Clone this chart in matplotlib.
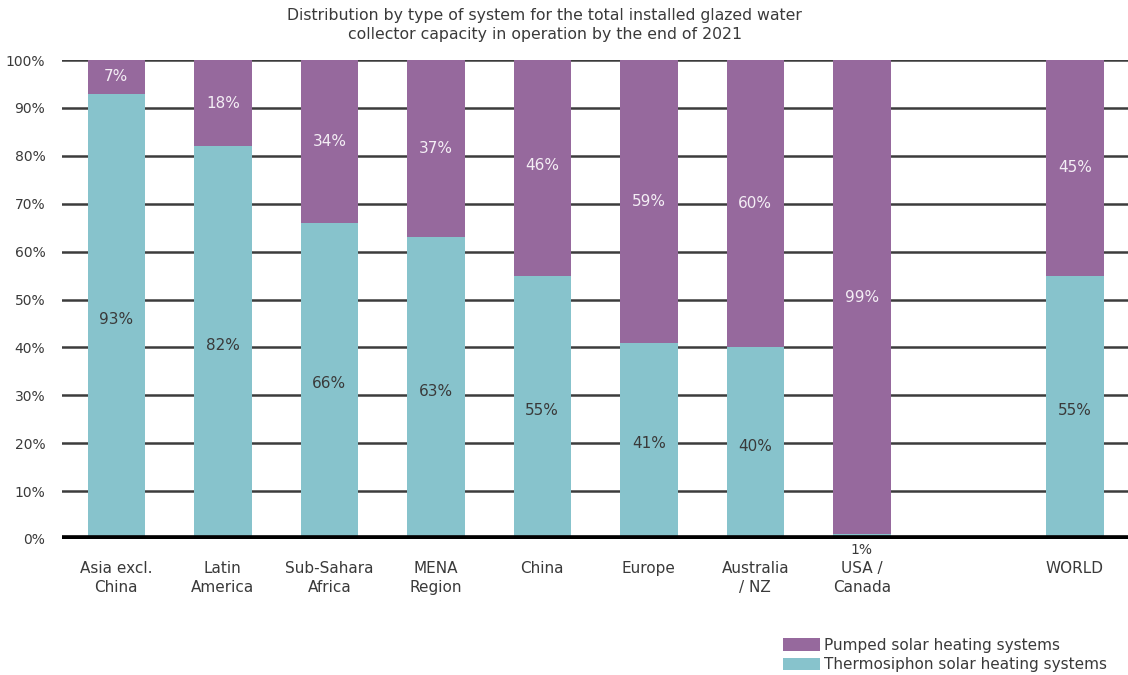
import matplotlib.pyplot as plt
import numpy as np

plt.rcParams['font.family'] = ['DejaVu Sans']

# Data
categories = ['Asia excl.\nChina', 'Latin\nAmerica', 'Sub-Sahara\nAfrica', 'MENA\nRegion',
              'China', 'Europe', 'Australia\n/ NZ', 'USA /\nCanada', 'WORLD']
thermosiphon = [93, 82, 66, 63, 55, 41, 40, 1, 55]
pumped = [7, 18, 34, 37, 46, 59, 60, 99, 45]
yticks = [0, 10, 20, 30, 40, 50, 60, 70, 80, 90, 100]

purple = '#96699d'
teal = '#87c3cc'
text_col = '#3a3a3a'

# one empty slot before WORLD
x = np.array(list(range(8)) + [9])

fig = plt.figure(figsize=(11.28, 6.75), dpi=100)
ax = fig.add_axes([0.055, 0.2015, 0.945, 0.7095])

ax.bar(x, thermosiphon, width=0.54, color=teal, zorder=3,
       label='Thermosiphon solar heating systems')
ax.bar(x, pumped, width=0.54, bottom=thermosiphon, color=purple, zorder=3,
       label='Pumped solar heating systems')

# value labels
for xi, t, p in zip(x, thermosiphon, pumped):
    if t >= 5:
        ax.text(xi, t / 2 - 0.6, f'{t}%', ha='center', va='center', fontsize=11,
                color=text_col, zorder=4)
    else:
        ax.text(xi, -2.4, f'{t}%', ha='center', va='center', fontsize=10,
                color=text_col, zorder=4)
    ax.text(xi, t + p / 2, f'{p}%', ha='center', va='center', fontsize=11,
            color='#f4eef5', zorder=4)

# grid
for yv in yticks[1:]:
    ax.axhline(yv, color='#3c3c3c', linewidth=1.8, zorder=1)
ax.axhline(0, color='black', linewidth=5.5, zorder=5)

ax.set_xlim(-0.51, 9.5)
ax.set_ylim(0, 100)
ax.set_yticks(yticks)
ax.set_yticklabels([f'{v}%' for v in yticks], fontsize=10, color=text_col)
ax.set_xticks(x)
ax.set_xticklabels(categories, fontsize=11, color=text_col, linespacing=1.3)
ax.tick_params(axis='both', length=0)
ax.tick_params(axis='x', pad=16)
ax.tick_params(axis='y', pad=12)
for s in ax.spines.values():
    s.set_visible(False)

fig.text(0.483, 0.963, 'Distribution by type of system for the total installed glazed water\n'
         'collector capacity in operation by the end of 2021',
         ha='center', va='center', fontsize=11.3, color=text_col, linespacing=1.3)

handles, labels = ax.get_legend_handles_labels()
leg = fig.legend(handles[::-1], labels[::-1], loc='lower right',
                 bbox_to_anchor=(0.991, -0.012), frameon=False, fontsize=11,
                 handlelength=2.4, handleheight=0.85, labelspacing=0.3,
                 handletextpad=0.3, borderaxespad=0.3)
for t in leg.get_texts():
    t.set_color(text_col)

plt.savefig('out.png', dpi=100)
